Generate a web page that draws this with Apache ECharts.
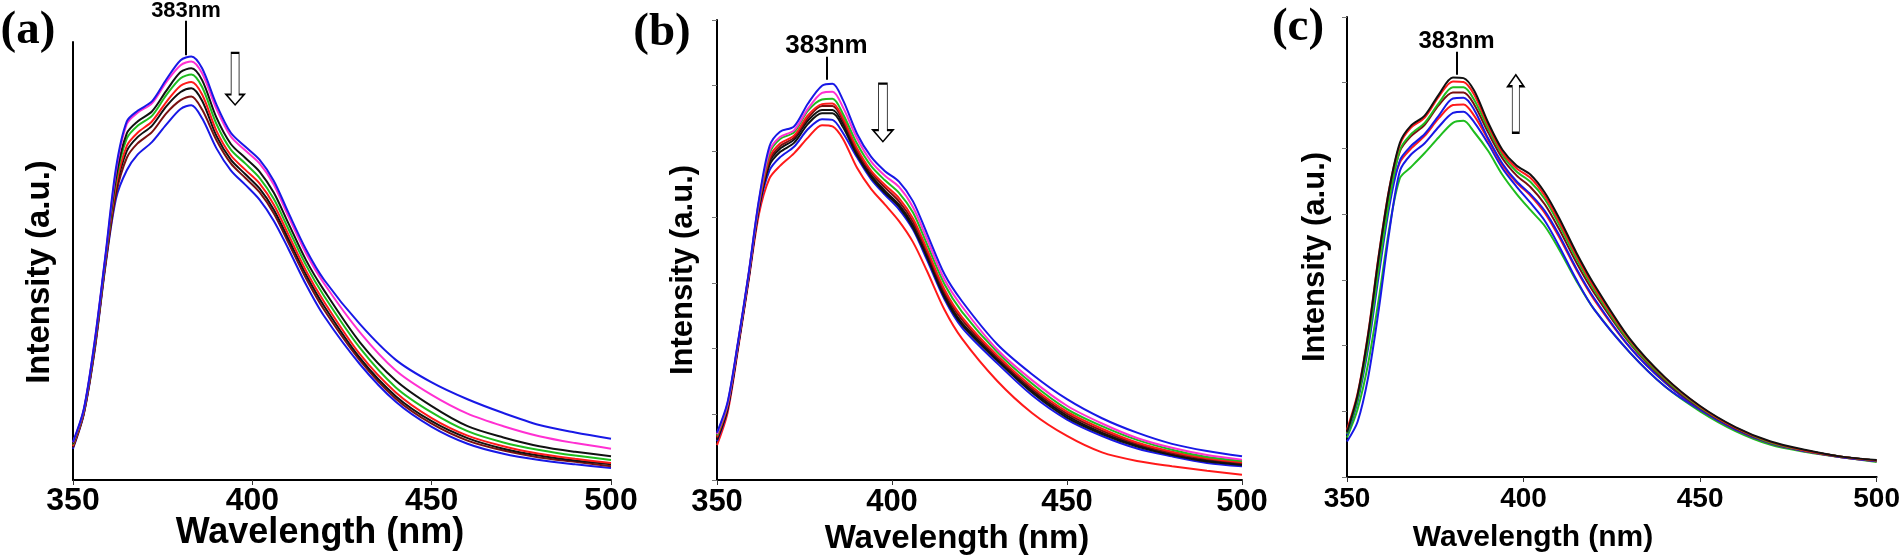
<!DOCTYPE html>
<html lang="en">
<head>
<meta charset="UTF-8">
<title>Emission spectra</title>
<script src="https://cdn.jsdelivr.net/npm/echarts@6/dist/echarts.min.js"></script>
<style>
  html, body { margin: 0; padding: 0; background: #fff; }
  #chart { width: 1903px; height: 558px; }
</style>
</head>
<body>
<div id="chart"></div>
<script>
  // wavelength grid (nm), shared by all three panels
  const wl = [350,353,356,359,362,365,368,372,376,380,383,386,390,394,398,402,406,410,415,420,430,440,450,460,470,480,490,500];

  // panel (a) - intensity falls with additions
  const aBlue1   = [0.61,1.13,2.20,3.57,4.99,5.73,5.90,6.05,6.40,6.71,6.77,6.58,6.00,5.55,5.33,5.12,4.78,4.28,3.68,3.20,2.49,1.92,1.56,1.29,1.07,0.88,0.76,0.66];
  const aMagenta = [0.60,1.12,2.19,3.55,4.94,5.69,5.87,6.02,6.36,6.63,6.69,6.50,5.93,5.49,5.27,5.06,4.72,4.22,3.62,3.14,2.36,1.75,1.36,1.06,0.86,0.70,0.59,0.50];
  const aBlack1  = [0.58,1.11,2.16,3.52,4.84,5.54,5.73,5.89,6.22,6.52,6.58,6.39,5.79,5.37,5.15,4.93,4.59,4.11,3.51,3.03,2.20,1.59,1.18,0.86,0.68,0.54,0.45,0.38];
  const aGreen   = [0.57,1.10,2.14,3.50,4.79,5.46,5.66,5.82,6.15,6.42,6.48,6.28,5.69,5.28,5.06,4.83,4.49,4.02,3.43,2.94,2.11,1.48,1.08,0.78,0.60,0.48,0.39,0.32];
  const aRed     = [0.54,1.08,2.11,3.47,4.70,5.34,5.55,5.73,6.04,6.30,6.36,6.16,5.58,5.19,4.96,4.74,4.40,3.93,3.34,2.85,2.01,1.40,0.99,0.71,0.54,0.42,0.34,0.27];
  const aBlack2  = [0.53,1.07,2.10,3.45,4.65,5.26,5.48,5.66,5.97,6.20,6.26,6.06,5.50,5.12,4.89,4.66,4.32,3.86,3.28,2.78,1.95,1.34,0.94,0.67,0.50,0.39,0.31,0.25];
  const aBrown   = [0.52,1.06,2.07,3.43,4.57,5.15,5.38,5.56,5.86,6.07,6.13,5.92,5.43,5.06,4.83,4.60,4.26,3.80,3.22,2.72,1.91,1.30,0.90,0.63,0.47,0.36,0.29,0.22];
  const aBlue2   = [0.50,1.05,2.05,3.40,4.50,4.95,5.20,5.40,5.68,5.93,5.99,5.78,5.30,4.95,4.72,4.48,4.14,3.70,3.12,2.62,1.85,1.25,0.85,0.58,0.42,0.32,0.25,0.19];

  // panel (b)
  const bBlue1   = [0.72,1.18,2.10,3.13,4.27,5.08,5.30,5.38,5.73,6.00,6.03,5.78,5.27,4.92,4.70,4.54,4.24,3.75,3.13,2.72,2.07,1.61,1.23,0.94,0.72,0.55,0.44,0.36];
  const bMagenta = [0.70,1.16,2.09,3.12,4.25,5.01,5.22,5.32,5.65,5.89,5.91,5.67,5.20,4.85,4.63,4.46,4.15,3.67,3.05,2.64,1.99,1.52,1.13,0.86,0.64,0.49,0.38,0.31];
  const bGreen   = [0.68,1.15,2.08,3.11,4.23,4.97,5.19,5.29,5.62,5.79,5.80,5.57,5.12,4.78,4.56,4.37,4.07,3.59,2.98,2.56,1.95,1.47,1.08,0.82,0.61,0.46,0.35,0.29];
  const bRed1    = [0.66,1.13,2.07,3.10,4.20,4.91,5.12,5.24,5.55,5.72,5.73,5.51,5.05,4.71,4.49,4.29,3.98,3.51,2.90,2.48,1.90,1.42,1.04,0.78,0.57,0.43,0.33,0.27];
  const bBrown   = [0.64,1.12,2.06,3.09,4.18,4.87,5.08,5.21,5.51,5.69,5.69,5.47,5.01,4.68,4.45,4.24,3.93,3.47,2.86,2.44,1.87,1.39,1.01,0.75,0.55,0.41,0.32,0.26];
  const bBlack1  = [0.62,1.10,2.05,3.08,4.16,4.84,5.04,5.18,5.47,5.63,5.63,5.42,4.97,4.64,4.40,4.19,3.88,3.42,2.82,2.39,1.85,1.36,0.98,0.72,0.53,0.39,0.30,0.24];
  const bBlack2  = [0.61,1.08,2.03,3.06,4.14,4.79,4.99,5.13,5.42,5.58,5.58,5.37,4.94,4.61,4.37,4.16,3.84,3.39,2.78,2.36,1.82,1.33,0.95,0.70,0.51,0.38,0.28,0.23];
  const bBlue2   = [0.59,1.07,2.02,3.05,4.12,4.71,4.91,5.07,5.34,5.49,5.48,5.28,4.91,4.58,4.34,4.12,3.81,3.35,2.75,2.32,1.78,1.29,0.92,0.67,0.48,0.36,0.26,0.21];
  const bRed2    = [0.53,1.02,1.99,3.02,4.05,4.59,4.78,4.97,5.21,5.40,5.38,5.19,4.75,4.43,4.19,3.94,3.62,3.18,2.59,2.15,1.51,1.02,0.67,0.42,0.29,0.21,0.14,0.08];

  // panel (c) - intensity rises
  const cBlack   = [0.68,1.25,2.17,3.36,4.39,5.09,5.34,5.50,5.82,6.08,6.07,5.88,5.39,4.98,4.74,4.60,4.33,3.95,3.41,2.93,2.11,1.52,1.08,0.76,0.54,0.41,0.31,0.26];
  const cRed1    = [0.72,1.27,2.19,3.38,4.40,5.06,5.31,5.47,5.79,6.02,6.01,5.82,5.35,4.94,4.70,4.55,4.28,3.90,3.37,2.89,2.09,1.51,1.07,0.75,0.53,0.40,0.31,0.25];
  const cGreen1  = [0.66,1.18,2.04,3.17,4.21,4.98,5.21,5.39,5.69,5.93,5.93,5.74,5.30,4.90,4.65,4.49,4.23,3.85,3.32,2.85,2.06,1.49,1.06,0.75,0.52,0.40,0.31,0.25];
  const cBrown   = [0.67,1.22,2.10,3.26,4.30,4.96,5.18,5.36,5.66,5.85,5.85,5.67,5.24,4.85,4.59,4.41,4.15,3.78,3.26,2.80,2.04,1.47,1.05,0.74,0.52,0.40,0.31,0.25];
  const cBlue1   = [0.64,1.15,1.97,3.07,4.12,4.82,5.03,5.22,5.50,5.76,5.77,5.59,5.15,4.77,4.50,4.30,4.05,3.69,3.17,2.72,1.98,1.44,1.03,0.72,0.51,0.39,0.30,0.24];
  const cRed2    = [0.66,1.21,2.08,3.23,4.27,4.79,4.99,5.19,5.46,5.66,5.67,5.50,5.13,4.75,4.48,4.28,4.02,3.66,3.15,2.70,1.98,1.44,1.03,0.72,0.51,0.39,0.30,0.24];
  const cBlue2   = [0.54,0.84,1.52,2.55,3.74,4.66,4.90,5.08,5.33,5.54,5.56,5.40,5.07,4.70,4.42,4.17,3.90,3.52,3.00,2.55,1.90,1.38,1.02,0.73,0.52,0.40,0.31,0.25];
  const cGreen2  = [0.60,1.03,1.73,2.71,3.79,4.55,4.71,4.93,5.17,5.39,5.42,5.25,4.96,4.60,4.31,4.06,3.82,3.47,2.98,2.55,1.90,1.38,1.00,0.70,0.49,0.38,0.30,0.23];

  const xTicks = [350, 400, 450, 500];

  const BLUE = '#1818e6', MAG = '#ff30d2', GRN = '#1fbd1f', RED = '#ff1a1a', BRN = '#7a1010', BLK = '#111111';
  const SANS = '"Liberation Sans", Arial, sans-serif';
  const SERIF = '"Liberation Serif", "Times New Roman", serif';

  const panels = [
    {
      grid: { left: 73, top: 42, width: 538, height: 438 },
      lines: [[aBlue2, BLUE], [aBrown, BRN], [aBlack2, BLK], [aRed, RED], [aGreen, GRN], [aBlack1, BLK], [aMagenta, MAG], [aBlue1, BLUE]],
      ticks: false, labelSize: 32, labelMargin: 5,
      peak: [381.5, 6.79, 7.34], peakSize: 22,
      arrow: { at: [395.2, 6.41], size: [18, 52], up: false }
    },
    {
      grid: { left: 717, top: 20, width: 525, height: 460 },
      lines: [[bRed2, RED], [bBlue2, BLUE], [bBlack2, BLK], [bBlack1, BLK], [bBrown, BRN], [bRed1, RED], [bGreen, GRN], [bMagenta, MAG], [bBlue1, BLUE]],
      ticks: true, labelSize: 31, labelMargin: 7,
      peak: [381.3, 6.09, 6.44], peakSize: 26,
      arrow: { at: [397.4, 5.59], size: [20, 58], up: false }
    },
    {
      grid: { left: 1347, top: 17, width: 534, height: 460 },
      lines: [[cGreen2, GRN], [cBlue2, BLUE], [cRed2, RED], [cBlue1, BLUE], [cBrown, BRN], [cGreen1, GRN], [cRed1, RED], [cBlack, BLK]],
      ticks: true, labelSize: 28, labelMargin: 8,
      peak: [381.0, 6.12, 6.47], peakSize: 24,
      arrow: { at: [397.8, 5.68], size: [16, 58], up: true }
    }
  ];

  const arrowDown = 'path://M28,0L72,0L72,80L100,80L50,100L0,80L28,80Z';
  const arrowUp = 'path://M50,0L100,20L72,20L72,100L28,100L28,20L0,20Z';

  const grids = [], xAxes = [], yAxes = [], series = [], markSeries = [];
  panels.forEach((p, i) => {
    grids.push(p.grid);
    xAxes.push({
      gridIndex: i, type: 'value', min: 350, max: 500, interval: 50,
      axisLine: { lineStyle: { color: '#000', width: 2 } },
      axisTick: { show: true, length: 5, lineStyle: { color: '#333' } },
      splitLine: { show: false },
      axisLabel: {
        fontSize: p.labelSize, fontWeight: 'bold', color: '#000', fontFamily: SANS, margin: p.labelMargin,
        formatter: v => xTicks.includes(v) ? String(v) : ''
      }
    });
    yAxes.push({
      gridIndex: i, type: 'value', min: 0, max: 7, interval: 1,
      axisLine: { show: true, lineStyle: { color: '#000', width: 2 } },
      axisTick: { show: p.ticks, length: 5, lineStyle: { color: '#777' } },
      axisLabel: { show: false },
      splitLine: { show: false }
    });
    p.lines.forEach(([vals, color], k) => {
      const s = {
        type: 'line', xAxisIndex: i, yAxisIndex: i,
        data: wl.map((x, j) => [x, vals[j]]),
        showSymbol: false, smooth: 0.3, clip: false,
        lineStyle: { color: color, width: 2 },
        itemStyle: { color: color }
      };
      if (k === 0) {
        s.markLine = {
          silent: true, symbol: 'none', animation: false,
          lineStyle: { color: '#000', width: 2, type: 'solid' },
          label: {
            show: true, position: 'end', distance: 0, formatter: '383nm',
            fontSize: p.peakSize, lineHeight: Math.round(p.peakSize * 0.85),
            fontWeight: 'bold', color: '#000', fontFamily: SANS
          },
          data: []
        };
        s.markPoint = {
          silent: true, animation: false,
          symbol: p.arrow.up ? arrowUp : arrowDown,
          symbolSize: p.arrow.size, symbolKeepAspect: false,
          itemStyle: { color: '#fff', borderColor: '#000', borderWidth: 1.3 },
          label: { show: false },
          data: [{ coord: p.arrow.at }]
        };
        markSeries.push(s);
      }
      series.push(s);
    });
  });

  function txt(x, y, text, size, family, rot) {
    return {
      type: 'text', x: x, y: y, rotation: rot || 0, silent: true,
      style: { text: text, fontSize: size, fontWeight: 'bold', fontFamily: family, fill: '#000', align: 'center', verticalAlign: 'middle' }
    };
  }

  const graphics = [
    txt(28, 31, '(a)', 47, SERIF),
    txt(662, 33, '(b)', 47, SERIF),
    txt(1298, 28, '(c)', 47, SERIF),
    txt(320, 533, 'Wavelength (nm)', 36, SANS),
    txt(957, 539, 'Wavelength (nm)', 33, SANS),
    txt(1533, 538, 'Wavelength (nm)', 30, SANS),
    txt(40, 272, 'Intensity (a.u.)', 33, SANS, Math.PI / 2),
    txt(683, 270, 'Intensity (a.u.)', 31, SANS, Math.PI / 2),
    txt(1315, 257, 'Intensity (a.u.)', 31, SANS, Math.PI / 2)
  ];

  const chart = echarts.init(document.getElementById('chart'));
  chart.setOption({
    animation: false,
    backgroundColor: '#fff',
    grid: grids,
    xAxis: xAxes,
    yAxis: yAxes,
    series: series,
    graphic: graphics
  });

  // the 383nm marker can rise above the axis top, so its upper end is set in pixels
  panels.forEach((p, i) => {
    const end = chart.convertToPixel({ gridIndex: i }, [p.peak[0], p.peak[2]]);
    markSeries[i].markLine.data = [[{ coord: [p.peak[0], p.peak[1]] }, { x: end[0], y: end[1] }]];
  });
  chart.setOption({ series: series });
</script>
</body>
</html>
